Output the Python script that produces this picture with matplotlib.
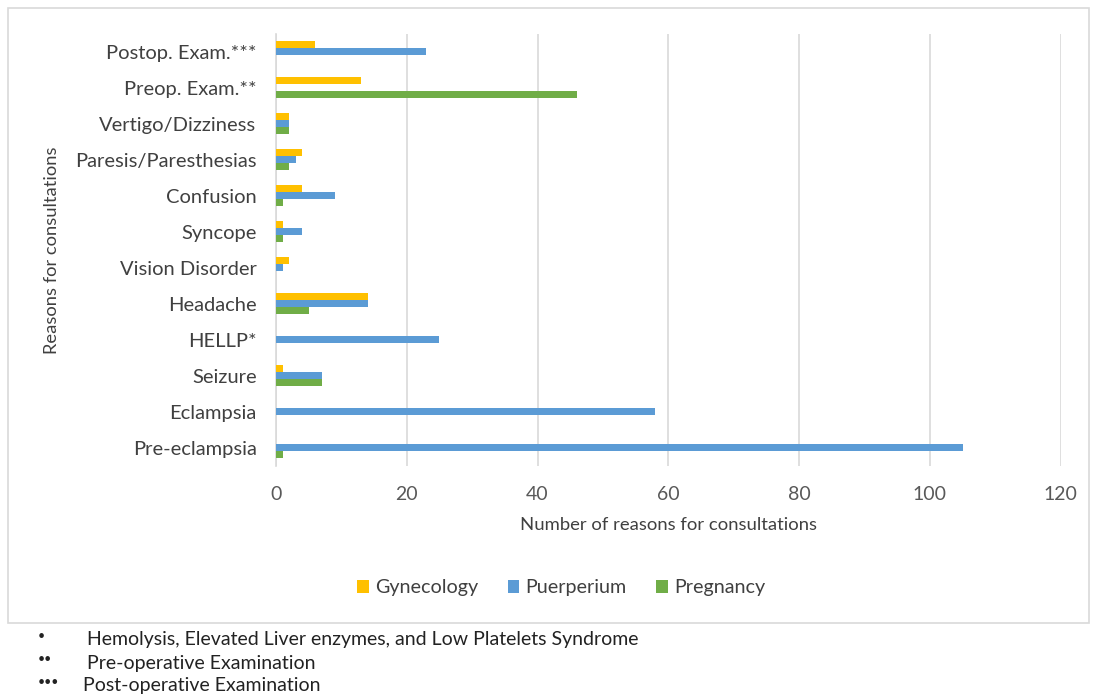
import matplotlib
matplotlib.use("Agg")
import matplotlib.pyplot as plt
from matplotlib.patches import Rectangle
import numpy as np

categories = ["Pre-eclampsia", "Eclampsia", "Seizure", "HELLP*", "Headache",
              "Vision Disorder", "Syncope", "Confusion", "Paresis/Paresthesias",
              "Vertigo/Dizziness", "Preop. Exam.**", "Postop. Exam.***"]
gynecology = [0, 0, 1, 0, 14, 2, 1, 4, 4, 2, 13, 6]
puerperium = [105, 58, 7, 25, 14, 1, 4, 9, 3, 2, 0, 23]
pregnancy = [1, 0, 7, 0, 5, 0, 1, 1, 2, 2, 46, 0]
series_names = ["Gynecology", "Puerperium", "Pregnancy"]
colors = ["#FFC000", "#5B9BD5", "#70AD47"]
xticks = [0, 20, 40, 60, 80, 100, 120]

plt.rcParams['font.family'] = ['Lato', 'DejaVu Sans']

W, H = 1093, 695
fig = plt.figure(figsize=(W / 100, H / 100), dpi=100)

# border box
fig.patches.append(Rectangle((8 / W, 1 - 623 / H), (1089 - 8) / W, (623 - 8) / H,
                             transform=fig.transFigure, fill=False,
                             edgecolor="#D9D9D9", linewidth=1.2))

left, right, top, bottom = 276, 1060.7, 34, 465.5
ax = fig.add_axes([left / W, 1 - bottom / H, (right - left) / W, (bottom - top) / H])

y = np.arange(len(categories))
h = 0.195
ax.barh(y + h, gynecology, height=h, color=colors[0], label=series_names[0], zorder=3)
ax.barh(y, puerperium, height=h, color=colors[1], label=series_names[1], zorder=3)
ax.barh(y - h, pregnancy, height=h, color=colors[2], label=series_names[2], zorder=3)

ax.set_xlim(0, 120)
ax.set_ylim(-0.5, len(categories) - 0.5)
ax.set_xticks(xticks)
ax.set_xticklabels([str(t) for t in xticks])
ax.set_yticks(y)
ax.set_yticklabels(categories)
ax.grid(axis="x", color="#D9D9D9", linewidth=1.2, zorder=0)
for s in ["top", "right", "bottom"]:
    ax.spines[s].set_visible(False)
ax.spines["left"].set_color("#D9D9D9")
ax.spines["left"].set_linewidth(1.2)
ax.tick_params(axis="both", length=0)
ax.tick_params(axis="x", labelsize=14, labelcolor="#595959", pad=15)
ax.tick_params(axis="y", labelsize=14.5, labelcolor="#404040", pad=14)

ax.set_xlabel("Number of reasons for consultations", fontsize=13.3, color="#404040", labelpad=10)
ax.set_ylabel("Reasons for consultations", fontsize=13.2, color="#404040")
ax.yaxis.set_label_coords((60 - left) / (right - left), 0.5)

leg = fig.legend(loc="center", bbox_to_anchor=(561 / W, 1 - 588 / H), ncol=3,
                 frameon=False, fontsize=14.2, handlelength=0.6, handleheight=0.6,
                 handletextpad=0.3, columnspacing=1.5)
for t in leg.get_texts():
    t.set_color("#404040")

notes = [("*", "Hemolysis, Elevated Liver enzymes, and Low Platelets Syndrome", 640),
         ("**", "Pre-operative Examination", 663),
         ("***", "Post-operative Examination", 686)]
xs = [87, 87, 83]
for (mk, txt, yy), xx in zip(notes, xs):
    fig.text(38 / W, 1 - (yy - 4) / H, mk.replace("*", "\u2022"), fontsize=9, color="#222222",
             va="center", ha="left")
    fig.text(xx / W, 1 - yy / H, txt, fontsize=14, color="#222222", va="center", ha="left")

fig.savefig("out.png", dpi=100)
